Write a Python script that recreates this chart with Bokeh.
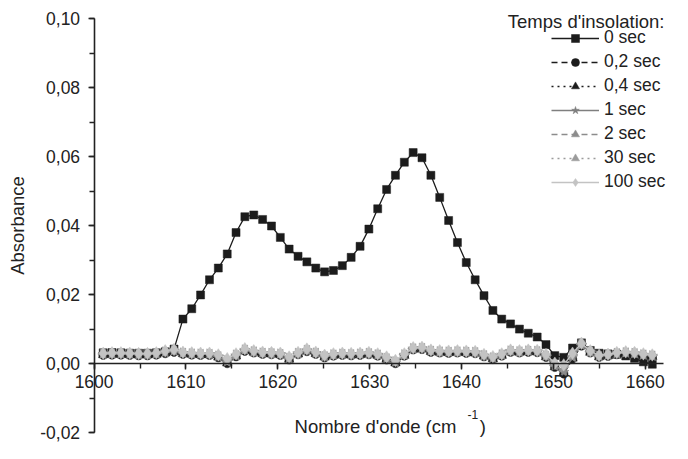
from bokeh.plotting import figure
from bokeh.models import (Legend, LegendItem, Label, SingleIntervalTicker,
                          CustomJSTickFormatter, Range1d)
from bokeh.embed import file_html
from bokeh.resources import INLINE
import numpy as np

# ---------------- data ----------------
wavenumber = [1600.99, 1601.95, 1602.92, 1603.88, 1604.85, 1605.81, 1606.77, 1607.74, 1608.70, 1609.67,
              1610.63, 1611.59, 1612.56, 1613.52, 1614.49, 1615.45, 1616.41, 1617.38, 1618.34, 1619.31,
              1620.27, 1621.23, 1622.20, 1623.16, 1624.13, 1625.09, 1626.05, 1627.02, 1627.98, 1628.95,
              1629.91, 1630.87, 1631.84, 1632.80, 1633.77, 1634.73, 1635.69, 1636.66, 1637.62, 1638.59,
              1639.55, 1640.51, 1641.48, 1642.44, 1643.41, 1644.37, 1645.33, 1646.30, 1647.26, 1648.23,
              1649.19, 1650.15, 1651.12, 1652.08, 1653.05, 1654.01, 1654.97, 1655.94, 1656.90, 1657.87,
              1658.83, 1659.79, 1660.76]

series_labels = ["0 sec", "0,2 sec", "0,4 sec", "1 sec", "2 sec", "30 sec", "100 sec"]

abs_0s = [.0031, .0032, .0031, .0030, .0030, .0030, .0031, .0034, .0042, .0129,
          .0159, .0199, .0243, .0277, .0318, .0380, .0426, .0431, .0418, .0399,
          .0366, .0332, .0311, .0295, .0277, .0266, .0270, .0284, .0308, .0340,
          .0390, .0449, .0505, .0546, .0584, .0612, .0597, .0546, .0482, .0415,
          .0351, .0293, .0243, .0197, .0154, .0129, .0115, .0100, .0088, .0077,
          .0055, .0023, .0018, .0045, .0060, .0038, .0030, .0028, .0027, .0022,
          .0015, .0005, -.0002]

abs_02s = [.0024, .0025, .0025, .0024, .0023, .0023, .0025, .0029, .0033, .0027,
           .0025, .0024, .0024, .0017, .0000, .0020, .0036, .0031, .0027, .0026,
           .0024, .0011, .0026, .0035, .0027, .0017, .0022, .0024, .0023, .0024,
           .0026, .0022, .0011, .0000, .0022, .0040, .0041, .0033, .0031, .0030,
           .0031, .0030, .0029, .0020, .0012, .0022, .0033, .0031, .0033, .0032,
           .0018, -.0011, -.0030, .0013, .0051, .0031, .0018, .0021, .0026, .0028,
           .0026, .0022, .0019]

abs_04s = [.0025, .0026, .0026, .0025, .0024, .0024, .0026, .0030, .0034, .0028,
           .0026, .0025, .0025, .0018, .0001, .0021, .0037, .0032, .0028, .0027,
           .0025, .0012, .0027, .0036, .0028, .0018, .0023, .0025, .0024, .0025,
           .0027, .0023, .0012, .0001, .0023, .0041, .0042, .0034, .0032, .0031,
           .0032, .0031, .0030, .0021, .0013, .0023, .0034, .0032, .0034, .0033,
           .0019, -.0010, -.0028, .0015, .0052, .0032, .0019, .0022, .0027, .0029,
           .0027, .0023, .0020]

abs_1s = [.0027, .0028, .0028, .0027, .0026, .0026, .0028, .0032, .0036, .0030,
          .0028, .0027, .0027, .0020, .0004, .0023, .0039, .0034, .0030, .0029,
          .0027, .0014, .0029, .0038, .0030, .0020, .0025, .0027, .0026, .0027,
          .0029, .0025, .0014, .0003, .0025, .0043, .0044, .0036, .0034, .0033,
          .0034, .0033, .0032, .0023, .0015, .0025, .0036, .0034, .0036, .0035,
          .0021, -.0008, -.0025, .0018, .0054, .0034, .0021, .0024, .0029, .0031,
          .0029, .0025, .0022]

abs_2s = [.0028, .0029, .0029, .0028, .0027, .0027, .0029, .0033, .0037, .0031,
          .0029, .0028, .0028, .0021, .0006, .0024, .0040, .0035, .0031, .0030,
          .0028, .0015, .0030, .0039, .0031, .0021, .0026, .0028, .0027, .0028,
          .0030, .0026, .0015, .0004, .0026, .0044, .0045, .0037, .0035, .0034,
          .0035, .0034, .0033, .0024, .0016, .0026, .0037, .0035, .0037, .0036,
          .0022, -.0006, -.0020, .0020, .0055, .0035, .0022, .0025, .0030, .0032,
          .0030, .0026, .0023]

abs_30s = [.0029, .0030, .0030, .0029, .0028, .0028, .0030, .0035, .0039, .0032,
           .0030, .0029, .0029, .0023, .0010, .0026, .0041, .0036, .0032, .0031,
           .0029, .0017, .0031, .0040, .0032, .0022, .0027, .0029, .0028, .0029,
           .0031, .0027, .0017, .0007, .0027, .0045, .0046, .0038, .0036, .0035,
           .0036, .0035, .0034, .0025, .0018, .0027, .0038, .0036, .0038, .0037,
           .0024, -.0002, -.0010, .0026, .0057, .0036, .0023, .0026, .0031, .0033,
           .0031, .0027, .0024]

abs_100s = [.0030, .0031, .0031, .0030, .0029, .0029, .0031, .0037, .0041, .0033,
            .0031, .0030, .0030, .0025, .0014, .0028, .0043, .0037, .0033, .0032,
            .0030, .0019, .0032, .0042, .0033, .0024, .0028, .0030, .0029, .0030,
            .0032, .0028, .0019, .0009, .0028, .0046, .0047, .0039, .0037, .0036,
            .0037, .0036, .0035, .0026, .0020, .0028, .0039, .0037, .0039, .0038,
            .0026, .0001, -.0004, .0030, .0059, .0037, .0024, .0027, .0032, .0034,
            .0032, .0028, .0025]

all_series = [abs_0s, abs_02s, abs_04s, abs_1s, abs_2s, abs_30s, abs_100s]

# axis extents and ticks
x_axis_bounds = (1600, 1662)
y_axis_bounds = (-0.02, 0.10)
x_tick_step = 10
y_tick_step = 0.02

# ---------------- styles ----------------
styles = [
    dict(marker="square", size=8, angle=0.0, color="#1c1c1c", dash="solid"),
    dict(marker="circle", size=8.5, angle=0.0, color="#1c1c1c", dash="6 4"),
    dict(marker="triangle", size=9.5, angle=0.0, color="#1c1c1c", dash="2 4"),
    dict(marker="star", size=11, angle=0.0, color="#7f7f7f", dash="solid"),
    dict(marker="triangle", size=9.5, angle=np.pi / 2, color="#8c8c8c", dash="6 4"),
    dict(marker="triangle", size=9.5, angle=-np.pi / 2, color="#9b9b9b", dash="2 4"),
    dict(marker="diamond", size=12.5, angle=0.0, color="#c3c3c3", dash="solid"),
]

FONT = "Liberation Sans"
TXT = "#222222"

# frame covers the whole canvas; the axes are pinned at x=1600 and y=0
p = figure(width=672, height=443, output_backend="svg", toolbar_location=None,
           x_range=Range1d(1589.81, 1662.96), y_range=Range1d(-0.02319, 0.10531),
           min_border=0, min_border_left=0, min_border_right=0,
           min_border_top=0, min_border_bottom=0)
p.xgrid.visible = False
p.ygrid.visible = False
p.outline_line_color = None

items = []
for lab, ys, st in zip(series_labels, all_series, styles):
    lr = p.line(wavenumber, ys, line_color=st["color"], line_width=1.3, line_dash=st["dash"])
    sr = p.scatter(wavenumber, ys, marker=st["marker"], size=st["size"], angle=st["angle"],
                   fill_color=st["color"], line_color=st["color"], line_width=0.5)
    items.append(LegendItem(label=lab, renderers=[lr, sr]))

legend = Legend(items=items, location=(551, 251), border_line_color=None,
                background_fill_alpha=0, glyph_width=48, glyph_height=20, label_height=20,
                spacing=3, padding=0, margin=0, label_standoff=5,
                label_text_font=FONT, label_text_font_size="17.5px", label_text_color=TXT)
p.add_layout(legend)

# axes
xa = p.xaxis[0]
xa.fixed_location = 0
xa.bounds = x_axis_bounds
xa.ticker = SingleIntervalTicker(interval=x_tick_step, num_minor_ticks=2)
ya = p.yaxis[0]
ya.fixed_location = x_axis_bounds[0]
ya.bounds = y_axis_bounds
ya.ticker = SingleIntervalTicker(interval=y_tick_step, num_minor_ticks=2)
ya.formatter = CustomJSTickFormatter(
    code="if (Math.abs(tick) < 1e-9) { return '0,00'; } return tick.toFixed(2).replace('.', ',');")
ya.axis_label = "Absorbance"
ya.axis_label_standoff = 10
ya.major_label_standoff = 8
xa.major_label_standoff = 5
for ax in (xa, ya):
    ax.axis_line_color = TXT
    ax.axis_line_width = 1.6
    ax.major_tick_line_color = TXT
    ax.minor_tick_line_color = TXT
    ax.major_tick_line_width = 1.4
    ax.minor_tick_line_width = 1.4
    ax.major_tick_in = 0
    ax.major_tick_out = 6
    ax.minor_tick_in = 0
    ax.minor_tick_out = 5
    ax.major_label_text_font = FONT
    ax.major_label_text_font_size = "17.5px"
    ax.major_label_text_color = TXT
    ax.axis_label_text_font = FONT
    ax.axis_label_text_font_size = "18.5px"
    ax.axis_label_text_font_style = "normal"
    ax.axis_label_text_color = TXT

# legend title and x-axis title as labels
p.add_layout(Label(x=1662.09, y=0.0992, text="Temps d'insolation:", text_align="right",
                   text_baseline="middle", text_font=FONT, text_font_size="18.5px", text_color=TXT))
p.add_layout(Label(x=1639.44, y=-0.01826, text="Nombre d'onde (cm", text_align="right",
                   text_baseline="middle", text_font=FONT, text_font_size="18.5px", text_color=TXT))
p.add_layout(Label(x=1640.64, y=-0.01478, text="-1", text_align="left",
                   text_baseline="middle", text_font=FONT, text_font_size="12px", text_color=TXT))
p.add_layout(Label(x=1641.98, y=-0.01826, text=")", text_align="left",
                   text_baseline="middle", text_font=FONT, text_font_size="18.5px", text_color=TXT))

open("out.html", "w").write(file_html(p, INLINE))
